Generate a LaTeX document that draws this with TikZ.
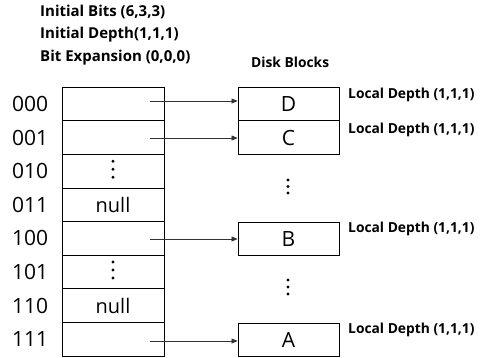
\documentclass[tikz,border=0pt]{standalone}
\usepackage{fontspec}
\setmainfont{Open Sans}
\usetikzlibrary{arrows.meta,calc}
\begin{document}
\begin{tikzpicture}[x=1pt,y=-1pt,
  cell/.style={draw,line width=0.9pt,minimum width=102pt,minimum height=33.6pt,inner sep=0pt,font=\fontsize{20}{20}\selectfont},
  blk/.style={draw,line width=0.9pt,minimum width=101pt,minimum height=33.6pt,inner sep=0pt,font=\fontsize{21}{21}\selectfont},
  addr/.style={anchor=west,inner sep=0pt,font=\fontsize{21}{21}\selectfont},
  hdr/.style={anchor=west,inner sep=0pt,font=\bfseries\fontsize{15}{15}\selectfont},
  ldp/.style={anchor=west,inner sep=0pt,font=\bfseries\fontsize{13.8}{14}\selectfont},
  ptr/.style={-{Triangle[length=6pt,width=5pt]},line width=0.6pt,draw=black!80},
  dot/.style={circle,fill=black,inner sep=0pt,minimum size=3.2pt}]
\useasboundingbox (0,0) rectangle (482,357);
\node[hdr] (h1) at (40,12) {Initial Bits (6,3,3)};
\node[hdr] (h2) at (40,35) {Initial Depth(1,1,1)};
\node[hdr] (h3) at (40,58) {Bit Expansion (0,0,0)};
\node[ldp] (db) at (251,62) {Disk Blocks};
% directory cells
\foreach \i/\a/\t in {0/000/,1/001/,2/010/,3/011/null,4/100/,5/101/,6/110/null,7/111/}{
  \node[cell] (c\i) at (113,104+33.6*\i) {\t};
  \node[addr] (a\i) at (12,104+33.6*\i) {\a};
}
% dots in cells
\foreach \c in {2,5}{
  \foreach \d in {-10,-2,6}{
    \node[dot] at ($(c\c.center)+(0,\d)$) {};
  }
}
% disk blocks
\node[blk] (D) at (288.5,104) {D};
\node[blk] (C) at (288.5,137.6) {C};
\node[blk] (B) at (288.5,239) {B};
\node[blk] (A) at (288.5,340) {A};
\foreach \y in {180,186.5,193,280,287,294}{
  \node[dot] at (288,\y) {};
}
% local depths
\foreach \n/\y in {D/95,C/130,B/229,A/330}{
  \node[ldp] (l\n) at (348,\y) {Local Depth (1,1,1)};
}
% pointers
\coordinate (p0) at (150,101);
\coordinate (p1) at (150,138);
\coordinate (p4) at (150,239);
\coordinate (p7) at (150,341);
\draw[ptr] (p0) -- (D.west |- p0);
\draw[ptr] (p1) -- (C.west |- p1);
\draw[ptr] (p4) -- (B.west |- p4);
\draw[ptr] (p7) -- (A.west |- p7);
\end{tikzpicture}
\end{document}
